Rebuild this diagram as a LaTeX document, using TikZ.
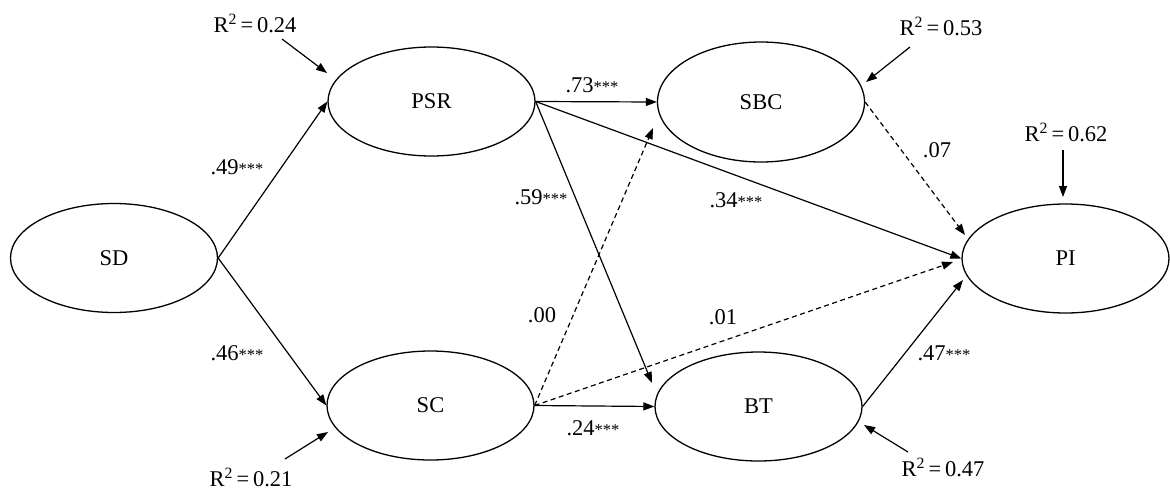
\documentclass[tikz,border=0pt]{standalone}
\usepackage{fontspec}
\setmainfont{Liberation Serif}
\usetikzlibrary{shapes.geometric,arrows.meta}
\newcommand\sigstars{{\fontsize{16.5}{16.5}\selectfont ***}}
\newcommand\rsq[1]{R\textsuperscript{2}\,=\,#1}
\begin{document}
\begin{tikzpicture}[x=1pt,y=-1pt,
 lat/.style={draw,ellipse,line width=1.3pt,minimum width=207pt,minimum height=109pt,inner sep=0pt,font=\fontsize{22.5}{26}\selectfont},
 arr/.style={line width=1.2pt,-{Triangle[length=11pt,width=8pt]}},
 dasharr/.style={arr,dash pattern=on 5pt off 3.5pt},
 lbl/.style={font=\fontsize{22.5}{26}\selectfont,inner sep=0pt},
 rlbl/.style={lbl,anchor=base},
]
\useasboundingbox (0,0) rectangle (1170,491);

% latent variables
\node[lat] (SD)  at (114,258)   {SD};
\node[lat] (PSR) at (431.5,101.5) {PSR};
\node[lat,minimum height=120pt] (SBC) at (761,102) {SBC};
\node[lat] (PI)  at (1065.5,258.5) {PI};
\node[lat] (SC)  at (430.5,405.5) {SC};
\node[lat] (BT)  at (758.5,406.5) {BT};

% arrow end points
\coordinate (btin)  at (652,383);
\coordinate (sbcin) at (653,128);
\coordinate (piinA) at (953,262);
\coordinate (piinB) at (965,235);
\coordinate (piinC) at (963,280);

% structural paths
\draw[arr] (SD.east) -- (PSR.west);
\draw[arr] (SD.east) -- (SC.west);
\draw[arr] (PSR.east) -- (SBC.west);
\draw[arr] (PSR.east) -- (PI.west);
\draw[arr] (PSR.east) -- (btin);
\draw[dasharr] (SC.east) -- (sbcin);
\draw[dasharr] (SC.east) -- (piinA);
\draw[arr] (SC.east) -- (BT.west);
\draw[dasharr] (SBC.east) -- (piinB);
\draw[arr] (BT.east) -- (piinC);

% path labels
\node[lbl] (l1) at (237,167) {.49\sigstars};
\node[lbl] (l2) at (237,353) {.46\sigstars};
\node[lbl] (l3) at (592,85)  {.73\sigstars};
\node[lbl] (l4) at (541,197) {.59\sigstars};
\node[lbl] (l5) at (736,200) {.34\sigstars};
\node[lbl] (l6) at (542,315) {.00};
\node[lbl] (l7) at (723,317) {.01};
\node[lbl] (l8) at (937,150) {.07};
\node[lbl] (l9) at (944,353) {.47\sigstars};
\node[lbl] (l10) at (593,428) {.24\sigstars};

% R-squared
\node[rlbl] (r1) at (255,32)   {\rsq{0.24}};
\node[rlbl] (r2) at (251,486)  {\rsq{0.21}};
\node[rlbl] (r3) at (941,35)   {\rsq{0.53}};
\node[rlbl] (r4) at (1066,141) {\rsq{0.62}};
\node[rlbl] (r5) at (943,476)  {\rsq{0.47}};

\coordinate (r1s) at (282,39);   \coordinate (r1e) at (327,73);
\coordinate (r2s) at (285,459);  \coordinate (r2e) at (328,432);
\coordinate (r3s) at (910,47);   \coordinate (r3e) at (866,82);
\coordinate (r4s) at (1063,150); \coordinate (r4e) at (1063,197);
\coordinate (r5s) at (908,452);  \coordinate (r5e) at (864,425);
\draw[arr] (r1s) -- (r1e);
\draw[arr] (r2s) -- (r2e);
\draw[arr] (r3s) -- (r3e);
\draw[arr] (r4s) -- (r4e);
\draw[arr] (r5s) -- (r5e);
\end{tikzpicture}
\end{document}
